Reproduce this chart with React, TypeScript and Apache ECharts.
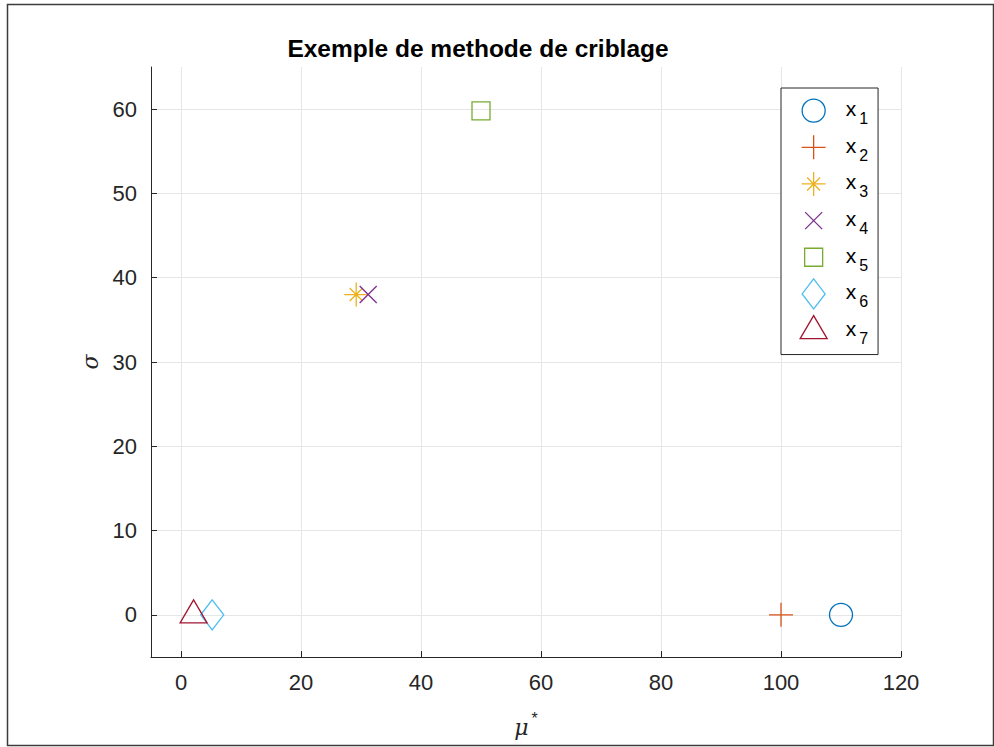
import React, { useEffect, useRef } from "react";
import * as echarts from "echarts";

const names = ["x1", "x2", "x3", "x4", "x5", "x6", "x7"];
const xValues = [110, 100, 29.2, 31.2, 50, 5.2, 2.1];
const yValues = [0, 0, 38, 38, 59.8, 0, 0];
const colors = ["#0072BD", "#D95319", "#EDB120", "#7E2F8E", "#77AC30", "#4DBEEE", "#A2142F"];
const xTicks = [0, 20, 40, 60, 80, 100, 120];
const yTicks = [0, 10, 20, 30, 40, 50, 60];

const F = "M0 0M30 30";
const symbols = [
  F + "M26.5 15A11.5 11.5 0 1 1 3.5 15A11.5 11.5 0 1 1 26.5 15Z",
  F + "M3 15L27 15M15 3L15 27",
  F + "M3 15L27 15M15 3L15 27M8.5 8.5L21.5 21.5M8.5 21.5L21.5 8.5",
  F + "M6.5 6.5L23.5 23.5M6.5 23.5L23.5 6.5",
  F + "M6 6L24 6L24 24L6 24Z",
  F + "M15 0L26.5 15L15 30L3.5 15Z",
  F + "M15 0L28.5 23L1.5 23Z",
];

const FONT = "Liberation Sans";

export default function App() {
  const ref = useRef<HTMLDivElement>(null);
  useEffect(() => {
    if (!ref.current) return;
    const chart = echarts.init(ref.current, null, { renderer: "svg" });
    const series = names.map((n, i) => ({
      name: n,
      type: "scatter",
      data: [[xValues[i], yValues[i]]],
      symbol: "path://" + symbols[i],
      symbolSize: 30,
      itemStyle: { color: "transparent", borderColor: colors[i], borderWidth: 1.3, opacity: 1 },
      emphasis: { disabled: true },
    }));
    chart.setOption({
      animation: false,
      backgroundColor: "#ffffff",
      title: {
        text: "Exemple de methode de criblage",
        left: 473,
        top: 31,
        textAlign: "center",
        textStyle: { fontFamily: FONT, fontSize: 24.5, fontWeight: "bold", color: "#000" },
      },
      graphic: [
        {
          type: "rect",
          shape: { x: 7.5, y: 4.5, width: 986, height: 741 },
          style: { fill: "none", stroke: "#3c3c3c", lineWidth: 1.5 },
          silent: true,
        },
      ],
      grid: { left: 151, right: 93, top: 67, bottom: 90, containLabel: false },
      xAxis: {
        type: "value",
        min: -5,
        max: 120,
        name: "{a|μ}{b|*}",
        nameLocation: "middle",
        nameGap: 53,
        nameTextStyle: {
          rich: {
            a: { fontFamily: "DejaVu Serif", fontStyle: "italic", fontSize: 22, color: "#262626" },
            b: { fontFamily: FONT, fontSize: 16, color: "#262626", padding: [0, 0, 18, 3] },
          },
        },
        axisLine: { show: true, onZero: false, lineStyle: { color: "#262626", width: 1 } },
        axisTick: { show: true, inside: true, length: 6, customValues: xTicks, lineStyle: { color: "#262626" } },
        axisLabel: { customValues: xTicks, fontFamily: FONT, fontSize: 22, color: "#262626", margin: 14 },
        splitLine: { show: true, lineStyle: { color: "#e6e6e6", width: 1 } },
      },
      yAxis: {
        type: "value",
        min: -5,
        max: 65,
        name: "σ",
        nameLocation: "middle",
        nameRotate: 90,
        nameGap: 49,
        nameTextStyle: { fontFamily: "DejaVu Serif", fontStyle: "italic", fontSize: 22, color: "#262626" },
        axisLine: { show: true, onZero: false, lineStyle: { color: "#262626", width: 1 } },
        axisTick: { show: true, inside: true, length: 6, customValues: yTicks, lineStyle: { color: "#262626" } },
        axisLabel: { customValues: yTicks, fontFamily: FONT, fontSize: 22, color: "#262626", margin: 14 },
        splitLine: { show: true, lineStyle: { color: "#e6e6e6", width: 1 } },
      },
      legend: {
        orient: "vertical",
        left: 781,
        top: 88,
        padding: [7, 10, 8, 17],
        itemWidth: 30,
        itemHeight: 30,
        itemGap: 5,
        backgroundColor: "#ffffff",
        borderColor: "#262626",
        borderWidth: 1,
        borderRadius: 0,
        selectedMode: false,
        data: names.map((n, i) => ({
          name: n,
          icon: "path://" + symbols[i],
          itemStyle: { color: "transparent", borderColor: colors[i], borderWidth: 1.3 },
        })),
        formatter: (n: string) => `{a|x}{b|${n.slice(1)}}`,
        textStyle: {
          rich: {
            a: { fontFamily: FONT, fontSize: 21, color: "#000", padding: [0, 0, 4, 12] },
            b: { fontFamily: FONT, fontSize: 16, color: "#000", padding: [16, 0, 0, 3] },
          },
        },
      },
      series,
    });
    return () => chart.dispose();
  }, []);
  return <div ref={ref} style={{ position: "fixed", left: 0, top: 0, width: 994, height: 747 }} />;
}
